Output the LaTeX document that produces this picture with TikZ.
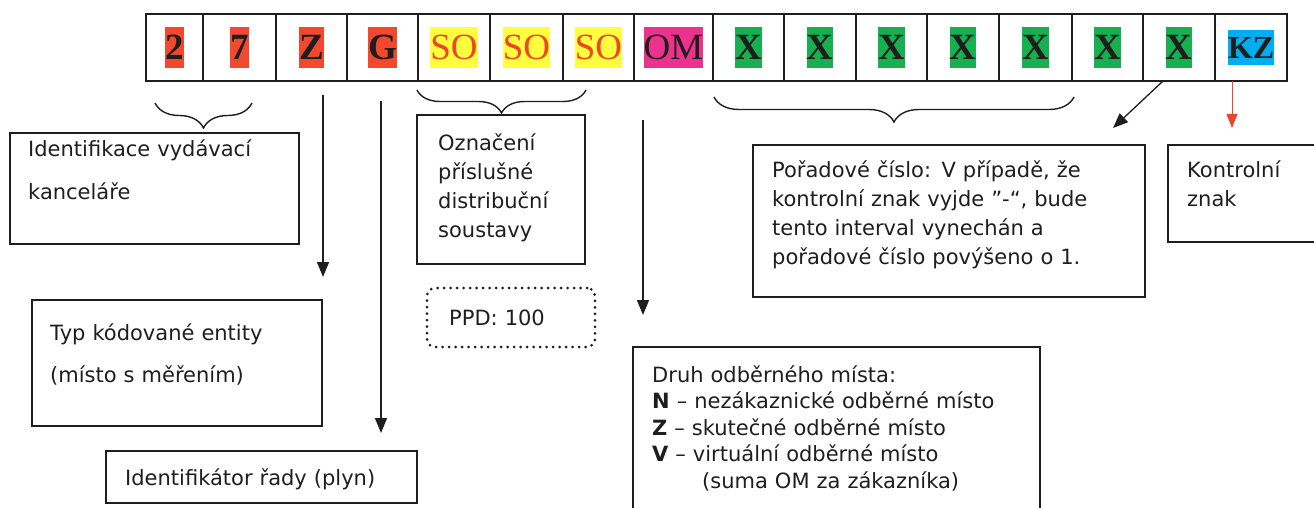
\documentclass[tikz,border=0pt]{standalone}
\usepackage{fontspec}
\setmainfont{DejaVu Sans}
\newfontfamily\cellfont{Liberation Serif}
\usetikzlibrary{arrows.meta,decorations.pathreplacing}
\definecolor{hlred}{RGB}{244,72,46}
\definecolor{hlyellow}{RGB}{255,255,64}
\definecolor{hlpink}{RGB}{236,50,140}
\definecolor{hlgreen}{RGB}{22,176,80}
\definecolor{hlblue}{RGB}{0,174,240}
\definecolor{sored}{RGB}{236,72,40}
\definecolor{ink}{RGB}{30,30,30}
\newcommand\hlbox[2]{{\setlength\fboxsep{0pt}\colorbox{#1}{\rule[-0.216em]{0pt}{1.107em}#2}}}

\begin{document}
\begin{tikzpicture}[x=1pt,y=-1pt,
  cell/.style={draw=ink, line width=1.2pt, minimum height=67pt, inner sep=0pt, text=ink, font=\cellfont\fontsize{37}{40}\selectfont},
  box/.style={draw=ink, line width=1.3pt, inner sep=0pt},
  txt/.style={anchor=base west, inner sep=0pt, text=ink, text width=420pt, align=left, font=\fontsize{21}{29}\selectfont},
  arr/.style={draw=ink, line width=1.3pt, -{Triangle[length=15pt,width=12pt]}},
  redarr/.style={draw=sored, line width=1pt, -{Triangle[length=14pt,width=11pt]}},
  brc/.style={draw=ink, line width=1.4pt, decorate, decoration={brace,mirror,amplitude=#1}},
  dotbox/.style={draw=ink, rounded corners=8pt, line width=3pt, dash pattern=on 0pt off 6.5pt, line cap=round}]
\useasboundingbox (0,0) rectangle (1314,508);

% code row
\node[cell, minimum width=57pt] (c1) at (174.5,47.5) {\hlbox{hlred}{\bfseries 2}};
\node[cell, minimum width=73pt] (c2) at (239.5,47.5) {\hlbox{hlred}{\bfseries 7}};
\node[cell, minimum width=71pt] (c3) at (311.5,47.5) {\hlbox{hlred}{\bfseries Z}};
\node[cell, minimum width=71pt] (c4) at (382.5,47.5) {\hlbox{hlred}{\bfseries G}};
\node[cell, minimum width=72pt] (c5) at (454,47.5) {\hlbox{hlyellow}{\color{sored}SO}};
\node[cell, minimum width=73pt] (c6) at (526.5,47.5) {\hlbox{hlyellow}{\color{sored}SO}};
\node[cell, minimum width=71pt] (c7) at (598.5,47.5) {\hlbox{hlyellow}{\color{sored}SO}};
\node[cell, minimum width=79pt] (c8) at (673.5,47.5) {\hlbox{hlpink}{OM}};
\node[cell, minimum width=71pt] (c9) at (748.5,47.5) {\hlbox{hlgreen}{\bfseries X}};
\node[cell, minimum width=72pt] (c10) at (820,47.5) {\hlbox{hlgreen}{\bfseries X}};
\node[cell, minimum width=71pt] (c11) at (891.5,47.5) {\hlbox{hlgreen}{\bfseries X}};
\node[cell, minimum width=72pt] (c12) at (963,47.5) {\hlbox{hlgreen}{\bfseries X}};
\node[cell, minimum width=73pt] (c13) at (1035.5,47.5) {\hlbox{hlgreen}{\bfseries X}};
\node[cell, minimum width=71pt] (c14) at (1107.5,47.5) {\hlbox{hlgreen}{\bfseries X}};
\node[cell, minimum width=72pt] (c15) at (1179,47.5) {\hlbox{hlgreen}{\bfseries X}};
\node[cell, minimum width=72pt] (c16) at (1251,47.5) {\fontsize{32}{34}\selectfont\hlbox{hlblue}{\bfseries KZ}};

% description boxes
\node[box, minimum width=289pt, minimum height=111pt] (office) at (154.5,188.5) {};
\node[txt] (officetxt) at (28,157) {Identifikace vydávací\\[14pt]kanceláře};
\node[box, minimum width=290pt, minimum height=126pt] (entity) at (177,363) {};
\node[txt] (entitytxt) at (50,340) {Typ kódované entity\\[13pt](místo s měřením)};
\node[box, minimum width=311pt, minimum height=52pt] (series) at (261.5,477) {};
\node[txt] (seriestxt) at (125,485) {Identifikátor řady (plyn)};
\node[box, minimum width=168pt, minimum height=149pt] (system) at (501,189.5) {};
\node[txt] (systemtxt) at (438,150) {Označení\\příslušné\\distribuční\\soustavy};
\node[dotbox, minimum width=168pt, minimum height=59pt] (ppd) at (511,317.5) {};
\node[txt] (ppdtxt) at (449,325) {PPD: 100};
\node[box, minimum width=392pt, minimum height=152pt] (order) at (949,221) {};
\node[txt] (ordertxt) at (772,177) {Pořadové číslo: V případě, že\\kontrolní znak vyjde "-“, bude\\tento interval vynechán a\\pořadové číslo povýšeno o 1.};
\node[box, minimum width=162pt, minimum height=97pt] (check) at (1249,193.5) {};
\node[txt] (checktxt) at (1187,177) {Kontrolní\\znak};
\node[box, minimum width=407pt, minimum height=173pt] (kind) at (836.5,433.5) {};
\node[txt, font=\fontsize{21}{26.5}\selectfont] (kindtxt) at (652,382) {Druh odběrného místa:\\\textbf{N} – nezákaznické odběrné místo\\\textbf{Z} – skutečné odběrné místo\\\textbf{V} – virtuální odběrné místo\\\hspace*{50pt}(suma OM za zákazníka)};

% braces and arrows
\coordinate (b1s) at (155,103);
\coordinate (b1e) at (252,103);
\coordinate (b2s) at (417,90);
\coordinate (b2e) at (586,90);
\coordinate (b3s) at (714,97);
\coordinate (b3e) at (1074,97);
\path[brc=25pt] (b1s) -- (b1e);
\path[brc=23pt] (b2s) -- (b2e);
\path[brc=25pt] (b3s) -- (b3e);

\coordinate (zs) at (323,95);
\coordinate (ze) at (323,277);
\coordinate (gs) at (381,101);
\coordinate (ge) at (381,433);
\coordinate (oms) at (643,120);
\coordinate (ome) at (643,315);
\coordinate (xs) at (1163,81);
\coordinate (xe) at (1113,128);
\coordinate (kzs) at (1232,81);
\coordinate (kze) at (1232,128);
\path[arr] (zs) -- (ze);
\path[arr] (gs) -- (ge);
\path[arr] (oms) -- (ome);
\path[arr] (xs) -- (xe);
\path[redarr] (kzs) -- (kze);

\end{tikzpicture}
\end{document}
